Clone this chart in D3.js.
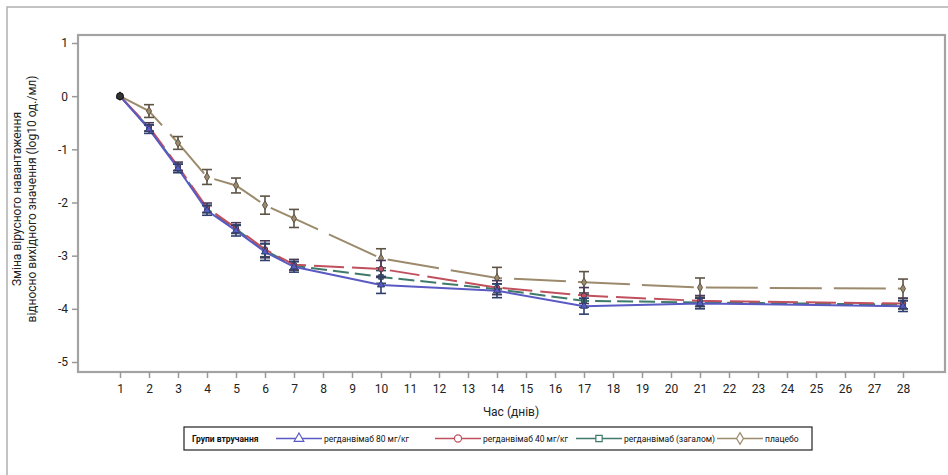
<!DOCTYPE html>
<html><head><meta charset="utf-8">
<script src="https://cdn.jsdelivr.net/npm/d3@7"></script>
<style>body{margin:0;background:#fff;} svg{display:block;font-family:Roboto,"DejaVu Sans",sans-serif;}</style>
</head><body>
<svg id="c" width="948" height="475"></svg>
<script>
const days = [1,2,3,4,5,6,7,10,14,17,21,28];
const xTicks = d3.range(1,29);
const yTicks = [1,0,-1,-2,-3,-4,-5];
const seriesNames = ["регданвімаб 80 мг/кг","регданвімаб 40 мг/кг","регданвімаб (загалом)","плацебо"];
const v80 = [0,-0.62,-1.36,-2.15,-2.53,-2.93,-3.21,-3.55,-3.66,-3.95,-3.9,-3.95];
const v40 = [0,-0.58,-1.32,-2.1,-2.48,-2.88,-3.17,-3.25,-3.6,-3.75,-3.85,-3.9];
const vAll = [0,-0.6,-1.34,-2.12,-2.5,-2.9,-3.19,-3.4,-3.63,-3.85,-3.88,-3.92];
const vPla = [0,-0.28,-0.88,-1.52,-1.68,-2.05,-2.3,-3.05,-3.42,-3.5,-3.6,-3.62];
const e80 = [0,0.08,0.08,0.09,0.1,0.16,0.1,0.16,0.13,0.15,0.1,0.1];
const e40 = [0,0.08,0.08,0.09,0.1,0.16,0.1,0.16,0.13,0.15,0.1,0.1];
const eAll = [0,0.06,0.06,0.07,0.08,0.12,0.08,0.12,0.1,0.12,0.08,0.08];
const ePla = [0,0.12,0.12,0.14,0.14,0.17,0.17,0.18,0.2,0.2,0.18,0.18];
const legendTitle = "Групи втручання";
const xTitle = "Час (днів)";
const yTitle1 = "Зміна вірусного навантаження";
const yTitle2 = "відносно вихідного значення (log10 од./мл)";

const svg = d3.select("#c");
const x = d3.scaleLinear().domain([1,28]).range([120,903]);
const y = d3.scaleLinear().domain([-5,1]).range([362,43]);
const frame = {l:78, t:35, r:945, b:372};

// outer border
svg.append("path").attr("d","M7,475 V7 H948").attr("fill","none").attr("stroke","#b0b0b0").attr("stroke-width",1.5);

// plot frame
svg.append("rect").attr("x",frame.l).attr("y",frame.t).attr("width",frame.r-frame.l).attr("height",frame.b-frame.t)
  .attr("fill","#fff").attr("stroke","#a3a3a3").attr("stroke-width",2.2);

// axes
const yAxis = d3.axisLeft(y).tickValues(yTicks).tickSize(6).tickPadding(4).tickFormat(d3.format("d"));
const gy = svg.append("g").attr("transform",`translate(${frame.l},0)`).call(yAxis);
gy.select(".domain").remove();
gy.selectAll("line").attr("stroke","#999").attr("stroke-width",1.5);
gy.selectAll("text").attr("font-size",12).attr("fill","#222").attr("font-family","Roboto, sans-serif").text(d=> d<0 ? "-"+Math.abs(d) : d);

const xAxis = d3.axisBottom(x).tickValues(xTicks).tickSize(6).tickPadding(6).tickFormat(d3.format("d"));
const gx = svg.append("g").attr("transform",`translate(0,${frame.b})`).call(xAxis);
gx.select(".domain").remove();
gx.selectAll("line").attr("stroke","#999").attr("stroke-width",1.5);
gx.selectAll("text").attr("font-size",12).attr("fill","#222").attr("font-family","Roboto, sans-serif");

// titles
svg.append("text").attr("x",511).attr("y",416).attr("text-anchor","middle").attr("font-size",12).attr("fill","#222").text(xTitle);
svg.append("text").attr("transform","translate(21,199) rotate(-90)").attr("text-anchor","middle").attr("font-size",12).attr("fill","#222").text(yTitle1);
svg.append("text").attr("transform","translate(36,199) rotate(-90)").attr("text-anchor","middle").attr("font-size",12).attr("fill","#222").text(yTitle2);

const series = [
  {name:seriesNames[3], v:vPla, e:ePla, color:"#9c8a6c", err:"#5e5446", dash:"52,12", sym:"diamond"},
  {name:seriesNames[2], v:vAll, e:eAll, color:"#3f7a6a", err:"#2f4f55", dash:"16,6", sym:"square"},
  {name:seriesNames[1], v:v40, e:e40, color:"#c0505e", err:"#4a3a5a", dash:"30,8", sym:"circle"},
  {name:seriesNames[0], v:v80, e:e80, color:"#5a5ac4", err:"#2e3f6e", dash:null, sym:"triangle"}
];
const symMap = {diamond:d3.symbolDiamond, square:d3.symbolSquare, circle:d3.symbolCircle, triangle:d3.symbolTriangle};

const plot = svg.append("g");
const line = d3.line().x((d,i)=>x(days[i])).y(d=>y(d));
series.forEach(s=>{
  const g = plot.append("g");
  g.append("path").datum(s.v).attr("d",line).attr("fill","none").attr("stroke",s.color).attr("stroke-width",2)
    .attr("stroke-dasharray",s.dash);
  s.v.forEach((v,i)=>{
    if(s.e[i]<=0) return;
    const cx = x(days[i]);
    const y1 = y(v+s.e[i]), y2 = y(v-s.e[i]);
    g.append("line").attr("x1",cx).attr("x2",cx).attr("y1",y1).attr("y2",y2).attr("stroke",s.err).attr("stroke-width",1.6);
    g.append("line").attr("x1",cx-5).attr("x2",cx+5).attr("y1",y1).attr("y2",y1).attr("stroke",s.err).attr("stroke-width",1.6);
    g.append("line").attr("x1",cx-5).attr("x2",cx+5).attr("y1",y2).attr("y2",y2).attr("stroke",s.err).attr("stroke-width",1.6);
  });
  g.selectAll("path.m").data(s.v).enter().append("path").attr("class","m")
    .attr("d",d3.symbol().type(symMap[s.sym]).size(22))
    .attr("transform",(d,i)=>`translate(${x(days[i])},${y(d)})`)
    .attr("fill",s.color).attr("stroke",s.err).attr("stroke-width",1);
});
// baseline marker
svg.append("circle").attr("cx",x(1)).attr("cy",y(0)).attr("r",3.5).attr("fill","#333").attr("stroke","#111");

// legend
const lg = svg.append("g");
lg.append("rect").attr("x",184).attr("y",427).attr("width",628).attr("height",23).attr("fill","#fff").attr("stroke","#222").attr("stroke-width",1.2);
lg.append("text").attr("x",192).attr("y",441.5).attr("font-size",8.5).attr("font-weight","bold").attr("fill","#111").text(legendTitle);
const legItems = [
  {s:series[3-0], x0:276},
  {s:series[2], x0:435},
  {s:series[1], x0:576},
  {s:series[0], x0:717}
];
const legendOrder = [series[3], series[2], series[1], series[0]];
const legX = [276, 435, 576, 717];
legendOrder.forEach((s,i)=>{
  const x0 = legX[i], ly = 438.5;
  lg.append("line").attr("x1",x0).attr("x2",x0+46).attr("y1",ly).attr("y2",ly).attr("stroke",s.color).attr("stroke-width",1.5);
  const sym = lg.append("path").attr("d",d3.symbol().type(symMap[s.sym]).size(40)).attr("transform",`translate(${x0+23},${ly})`)
    .attr("fill","#fff").attr("stroke",s.color).attr("stroke-width",1.2);
  lg.append("text").attr("x",x0+48).attr("y",441.5).attr("font-size",8.5).attr("fill","#111").text(s.name);
});
</script>
</body></html>
